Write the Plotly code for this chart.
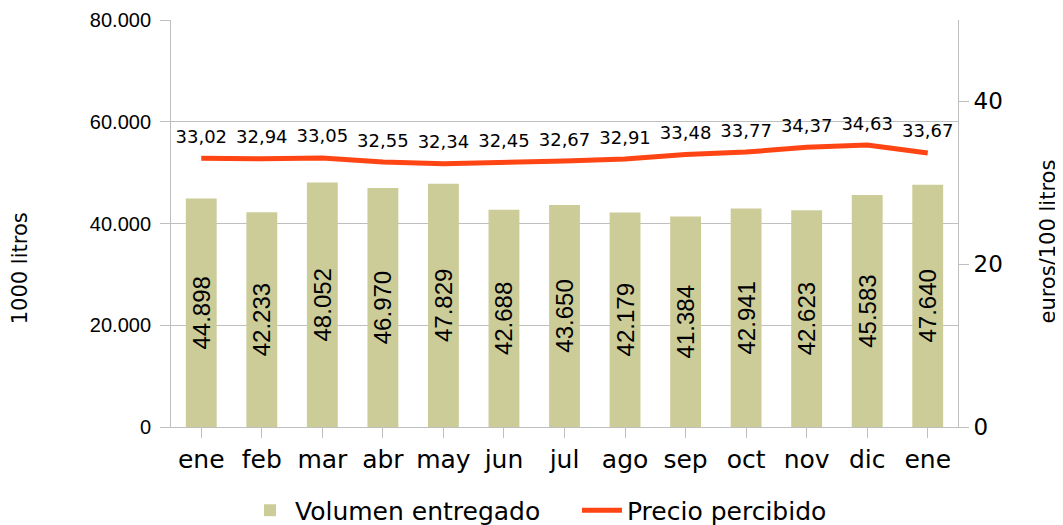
import plotly.graph_objects as go

months = ["ene", "feb", "mar", "abr", "may", "jun", "jul", "ago", "sep", "oct", "nov", "dic", "ene"]
volumen = [44898, 42233, 48052, 46970, 47829, 42688, 43650, 42179, 41384, 42941, 42623, 45583, 47640]
precio = [33.02, 32.94, 33.05, 32.55, 32.34, 32.45, 32.67, 32.91, 33.48, 33.77, 34.37, 34.63, 33.67]

x = list(range(len(months)))

GOTHIC = "DejaVu Sans"
ARIAL = "Liberation Sans, Arial"
GRAY = "#bfbfbf"

fig = go.Figure()
fig.add_trace(go.Bar(
    x=x, y=volumen, name="Volumen entregado",
    marker=dict(color="#cccc99", line=dict(width=0)),
    width=0.51,
    text=volumen, texttemplate="%{y:,d}",
    textposition="inside", insidetextanchor="middle", textangle=-90,
    constraintext="none",
    textfont=dict(family=ARIAL, size=24, color="#000000"),
    yaxis="y",
))
fig.add_trace(go.Scatter(
    x=x, y=precio, name="Precio percibido",
    mode="lines+markers+text",
    line=dict(color="#ff4513", width=5),
    marker=dict(size=16, color="rgba(0,0,0,0)", line=dict(width=0, color="rgba(0,0,0,0)")),
    text=precio, texttemplate="%{y:.2f}",
    textposition="top center",
    textfont=dict(family=GOTHIC, size=18, color="#000000"),
    yaxis="y2",
))

# the page body has an 8px margin, so the figure is 8px smaller and offset
fig.update_layout(
    width=1055, height=517,
    margin=dict(l=163, r=105, t=12, b=98, autoexpand=False),
    paper_bgcolor="white", plot_bgcolor="white",
    separators=",.",
    bargap=0.49,
    uniformtext=dict(mode="show", minsize=24),
    showlegend=True,
    legend=dict(orientation="h", x=0.094, xanchor="left", y=-0.205, yanchor="middle",
                font=dict(family=GOTHIC, size=25, color="#000000"),
                entrywidth=277, entrywidthmode="pixels",
                itemwidth=40, tracegroupgap=0),
    xaxis=dict(
        tickmode="array", tickvals=x, ticktext=months,
        range=[-0.5, len(months) - 0.5],
        tickson="boundaries", ticks="outside", ticklen=10, tickcolor=GRAY,
        showline=True, linecolor=GRAY, linewidth=1,
        showgrid=False, automargin=False,
        tickfont=dict(family=GOTHIC, size=25, color="#000000"),
    ),
    yaxis=dict(
        range=[0, 80000], dtick=20000, tickformat=",d",
        showgrid=True, gridcolor=GRAY, gridwidth=1,
        showline=True, linecolor=GRAY, linewidth=1,
        ticks="outside", ticklen=10, tickcolor=GRAY, automargin=False,
        ticklabelstandoff=5,
        tickfont=dict(family=ARIAL, size=20, color="#000000"),
        zeroline=False,
    ),
    yaxis2=dict(
        range=[0, 50], dtick=20, overlaying="y", side="right",
        showgrid=False, automargin=False,
        showline=True, linecolor=GRAY, linewidth=1,
        ticks="outside", ticklen=10, tickcolor=GRAY,
        tickfont=dict(family=GOTHIC, size=23, color="#000000"),
        zeroline=False,
    ),
    annotations=[
        dict(text="1000 litros", textangle=-90, xref="paper", yref="paper",
             x=-151 / 787, y=0.39, xanchor="center", yanchor="middle", showarrow=False,
             font=dict(family=GOTHIC, size=21, color="#000000")),
        dict(text="euros/100 litros", textangle=-90, xref="paper", yref="paper",
             x=1.114, y=0.455, xanchor="center", yanchor="middle", showarrow=False,
             font=dict(family=GOTHIC, size=21, color="#000000")),
    ],
)

fig.write_html("out.html")
